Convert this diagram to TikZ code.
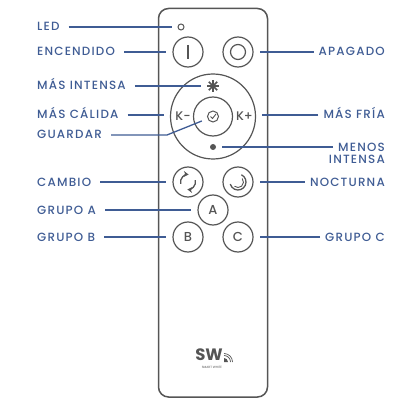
\documentclass[tikz,border=0pt]{standalone}
\usepackage{fontspec}
\setmainfont{Poppins}
\newfontfamily\lblfont[LetterSpace=10]{Poppins Medium}
\newfontfamily\keyfont{Poppins Medium}
\usetikzlibrary{arrows.meta}
\definecolor{leadblue}{HTML}{3F5C94}
\definecolor{bodygray}{HTML}{555555}
\tikzset{
  btn/.style={draw=bodygray, line width=1.2pt, circle, minimum size=30pt, inner sep=0pt, text=bodygray, font=\keyfont\fontsize{13}{13}\selectfont},
  icon/.style={draw=none, circle, minimum size=12pt, inner sep=0pt, text=bodygray, font=\keyfont\fontsize{12.5}{12.5}\selectfont},
  lbl/.style={text=leadblue, inner ysep=0pt, text height=8pt, text depth=0pt, font=\lblfont\fontsize{11.9}{12}\selectfont},
  lblw/.style={lbl, anchor=west, inner xsep=9pt},
  lble/.style={lbl, anchor=east, inner xsep=5pt},
  lead/.style={draw=leadblue, line width=1.3pt, shorten >=6pt},
  ink/.style={draw=bodygray, line width=1.1pt}
}
\begin{document}
\begin{tikzpicture}[x=1pt,y=-1pt]
\useasboundingbox (0,0) rectangle (396,398);
% remote body
\draw [draw=bodygray, line width=1.5pt, rounded corners=10pt] (158.5,8.5) rectangle (267.5,397);
% top row
\node [icon, draw=bodygray, line width=1pt, minimum size=6pt] (led) at (181,27) {};
\node [btn] (on) at (188,52) {};
\draw [ink] (188,45) -- (188,59);
\node [btn] (off) at (238,52) {};
\draw [ink, line width=1.2pt] (off) circle (7.5);
% ring with the dimming keys
\node [btn, minimum size=85pt] (ring) at (213,116.5) {};
\node [btn, minimum size=39pt] (hub) at (213,116.5) {};
\node [icon] (brighter) at (213,86) {};
\foreach \a in {0,45,...,315} \draw [ink, line width=1.5pt] (brighter.center) -- ++(\a:6);
\node [icon, minimum size=6pt, fill=bodygray] (dimmer) at (213,147) {};
\node [icon] (warm) at (183,116.5) {K-};
\node [icon] (cold) at (244.5,116.5) {K+};
\node [icon, draw=bodygray, line width=1pt, minimum size=11pt] (save) at (213,116.5) {};
\draw [ink, line width=.9pt] (210.5,116.5) -- (212.5,118.5) -- (216,114);
% lower keys
\node [btn] (swap) at (188,182) {};
\draw [ink, line width=1.3pt, -{Stealth[length=5pt,width=6pt]}] (swap.center) ++(165:7.5) arc[start angle=165,end angle=275,radius=7.5];
\draw [ink, line width=1.3pt, -{Stealth[length=5pt,width=6pt]}] (swap.center) ++(345:7.5) arc[start angle=345,end angle=455,radius=7.5];
\node [btn] (night) at (238,182) {};
\draw [ink, line width=1.3pt] (night.center) ++(-65:8) arc[start angle=-65,end angle=165,radius=8];
\draw [ink, line width=.9pt] (night.center) ++(-40:5.5) arc[start angle=-40,end angle=130,radius=5.5];
\node [btn] (groupa) at (213,210) {A};
\node [btn] (groupb) at (188,237) {B};
\node [btn] (groupc) at (238,237) {C};
% logo
\node [text=bodygray, inner sep=0pt, font=\fontsize{16.5}{16.5}\selectfont\bfseries] (logo) at (209,355) {SW};
\node [text=bodygray, inner sep=0pt, font=\fontsize{3.1}{3.1}\selectfont] (logotxt) at (212,367.5) {SMART WHITE};
\fill [bodygray] (224,362) -- (224,358) arc[start angle=270,end angle=360,radius=4] -- cycle;
\draw [bodygray, line width=.7pt] (224,355.5) arc[start angle=270,end angle=360,radius=6.5];
\draw [bodygray, line width=.7pt] (224,353.5) arc[start angle=270,end angle=360,radius=8.5];
% labels left
\node [lblw] (tled) at (28,27) {LED};
\node [lblw] (ton) at (28,52) {ENCENDIDO};
\node [lblw] (tbright) at (28,86) {MÁS INTENSA};
\node [lblw] (twarm) at (28,115) {MÁS CÁLIDA};
\node [lblw] (tsave) at (28,135) {GUARDAR};
\node [lblw] (tswap) at (28,182) {CAMBIO};
\node [lblw] (tgroupa) at (28,210) {GRUPO A};
\node [lblw] (tgroupb) at (28,237) {GRUPO B};
% labels right
\node [lble] (toff) at (390,52) {APAGADO};
\node [lble] (tcold) at (390,115) {MÁS FRÍA};
\node [lble] (tdim) at (390,147) {MENOS};
\node [lble] (tdimb) at (390,160) {INTENSA};
\node [lble] (tnight) at (390,182) {NOCTURNA};
\node [lble] (tgroupc) at (390,237) {GRUPO C};
% leaders
\draw [lead] (tled.east) -- (led.west);
\draw [lead] (ton.east) -- (on.west);
\draw [lead] (tbright.east) -- (brighter.west);
\draw [lead] (twarm.east) -- (twarm.east -| ring.west);
\coordinate (savebend) at (167,135);
\draw [lead] (tsave.east) -- (savebend) -- (save);
\draw [lead] (tswap.east) -- (swap.west);
\draw [lead] (tgroupa.east) -- (groupa.west);
\draw [lead] (tgroupb.east) -- (groupb.west);
\draw [lead] (toff.west) -- (off.east);
\draw [lead] (tcold.west) -- (tcold.west -| ring.east);
\draw [lead] (tdim.west) -- (dimmer.east);
\draw [lead] (tnight.west) -- (night.east);
\draw [lead] (tgroupc.west) -- (groupc.east);
\end{tikzpicture}
\end{document}
